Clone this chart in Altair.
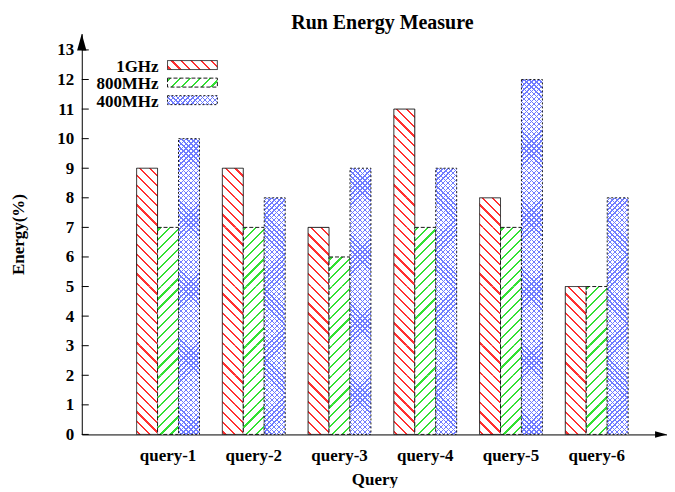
import altair as alt
import pandas as pd

QUERIES = ["query-1", "query-2", "query-3", "query-4", "query-5", "query-6"]
FREQS = ["1GHz", "800MHz", "400MHz"]
E_1GHZ = [9, 9, 7, 11, 8, 5]
E_800MHZ = [7, 7, 6, 7, 7, 5]
E_400MHZ = [10, 8, 9, 9, 12, 8]
Y_TICKS = list(range(0, 14))

rows = []
for q, a, b, c in zip(QUERIES, E_1GHZ, E_800MHZ, E_400MHZ):
    rows.append({"query": q, "freq": "1GHz", "energy": a})
    rows.append({"query": q, "freq": "800MHz", "energy": b})
    rows.append({"query": q, "freq": "400MHz", "energy": c})
df = pd.DataFrame(rows)

# unit slices of each bar, used only to carry the hatch pattern
chunks = pd.DataFrame([
    {"query": r["query"], "freq": r["freq"], "lo": k, "hi": min(k + 1, r["energy"])}
    for _, r in df.iterrows() for k in range(int(-(-r["energy"] // 1)))
])

W, H = 587, 402
YMAX = 13.55
STEP_TARGET = 86
PI = 0.267
PO = (W / STEP_TARGET - (len(QUERIES) - PI)) / 2
ALIGN = 55 / (W - STEP_TARGET * (len(QUERIES) - PI))
step = W / (len(QUERIES) - PI + 2 * PO)
BARW = step * (1 - PI) / 3
PXU = H / YMAX
FONT = "Liberation Serif"


def stripe_grad(w, h, kind, period, lw, color, bg, phase=2.0):
    L = w + h
    stops = [{"offset": 0, "color": bg}]
    pos = phase
    while pos < L:
        a = pos / L
        b = min((pos + lw) / L, 1.0)
        stops += [{"offset": a, "color": bg}, {"offset": a, "color": color},
                  {"offset": b, "color": color}, {"offset": b, "color": bg}]
        pos += period
    stops.append({"offset": 1, "color": bg})
    s = (w + h) * w / (w * w + h * h)
    if kind == "back":
        x1, y1, x2, y2 = 0, 1, s, 1 - s * h / w
    else:
        x1, y1, x2, y2 = 0, 0, s, s * h / w
    return {"gradient": "linear", "x1": x1, "y1": y1, "x2": x2, "y2": y2, "stops": stops}


CLEAR = "rgba(255,255,255,0)"
STYLE = {
    "1GHz": dict(kinds=[("back", PXU / 3, 2.2, "#ff3030", "white")], dash=[1, 0]),
    "800MHz": dict(kinds=[("fwd", PXU / 3, 2.2, "#33e033", "white")], dash=[4, 2]),
    "400MHz": dict(kinds=[("fwd", PXU / 6, 1.3, "#6f7cff", "white"),
                          ("back", PXU / 6, 1.3, "#6f7cff", CLEAR)], dash=[2, 2]),
}

x_enc = alt.X("query:N", sort=QUERIES,
              scale=alt.Scale(domain=QUERIES, paddingInner=PI, paddingOuter=PO, align=ALIGN),
              axis=alt.Axis(labelAngle=0, ticks=False, labelPadding=13, titlePadding=8, grid=False),
              title="Query")
xo_enc = alt.XOffset("freq:N", sort=FREQS, scale=alt.Scale(domain=FREQS, paddingInner=0, paddingOuter=0))
y_axis = alt.Axis(values=Y_TICKS, ticks=False, grid=False, labelPadding=8, titlePadding=29,
                  labelOverlap=False, labelFlush=False)
y_scale = alt.Scale(domain=[0, YMAX], nice=False)

layers = []
for f in FREQS:
    st = STYLE[f]
    for kind, per, lw, col, bg in st["kinds"]:
        grad = stripe_grad(BARW, PXU, kind, per, lw, col, bg)
        layers.append(
            alt.Chart(chunks).mark_bar(fill=grad, strokeWidth=0).encode(
                x=x_enc, xOffset=xo_enc,
                y=alt.Y("lo:Q", scale=y_scale, axis=y_axis, title="Energy(%)"), y2="hi:Q")
            .transform_filter(alt.datum.freq == f)
        )
    layers.append(
        alt.Chart(df).mark_bar(fillOpacity=0, stroke="#1a1a1a", strokeWidth=1, strokeDash=st["dash"]).encode(
            x=x_enc, xOffset=xo_enc,
            y=alt.Y("energy:Q", scale=y_scale, axis=y_axis, title="Energy(%)"))
        .transform_filter(alt.datum.freq == f)
    )

ticks = alt.Chart(pd.DataFrame({"tick": Y_TICKS})).mark_rule(color="black", strokeWidth=1).encode(
    y=alt.Y("tick:Q", scale=y_scale, axis=y_axis, title="Energy(%)"), x=alt.value(0), x2=alt.value(7))
layers.append(ticks)

one = pd.DataFrame({"k": [0]})
layers.append(alt.Chart(one).mark_point(shape="M0,0L0.55,2L-0.55,2Z", filled=True, color="black",
                                          opacity=1, size=289).encode(x=alt.value(0), y=alt.value(0)))
layers.append(alt.Chart(one).mark_point(shape="M0,0L-2,-0.55L-2,0.55Z", filled=True, color="black",
                                          opacity=1, size=144).encode(x=alt.value(W), y=alt.value(H)))

LEG_Y = [27.0, 44.6, 62.2]
for name, ly in zip(FREQS, LEG_Y):
    st = STYLE[name]
    for kind, per, lw, col, bg in st["kinds"]:
        layers.append(alt.Chart(pd.DataFrame({"freq": [name]})).mark_rect(
            fill=stripe_grad(50, 9, kind, per, lw, col, bg), strokeWidth=0).encode(
            x=alt.value(86), x2=alt.value(136), y=alt.value(ly), y2=alt.value(ly + 9)))
    layers.append(alt.Chart(pd.DataFrame({"freq": [name]})).mark_rect(
        fillOpacity=0, stroke="#1a1a1a", strokeWidth=1, strokeDash=st["dash"]).encode(
        x=alt.value(86), x2=alt.value(136), y=alt.value(ly), y2=alt.value(ly + 9)))
    layers.append(alt.Chart(pd.DataFrame({"freq": [name]})).mark_text(
        align="right", baseline="middle", font=FONT, fontSize=17, fontWeight="bold", color="black").encode(
        text="freq:N", x=alt.value(77), y=alt.value(ly + 6)))

chart = alt.layer(*layers).properties(
    width=W, height=H,
    padding={"left": 2, "top": 4, "right": 0, "bottom": 0},
    title=alt.Title("Run Energy Measure", font=FONT, fontSize=20, fontWeight="bold", color="black",
                    anchor="middle", frame="group", offset=1, dx=8),
).configure_view(stroke=None).configure_axis(
    labelFont=FONT, labelFontSize=17, labelFontWeight="bold", labelColor="black",
    titleFont=FONT, titleFontSize=17, titleFontWeight="bold", titleColor="black",
    domainColor="black", domainWidth=1,
)

chart.save("out.html", embed_options={"renderer": "svg", "actions": False})
